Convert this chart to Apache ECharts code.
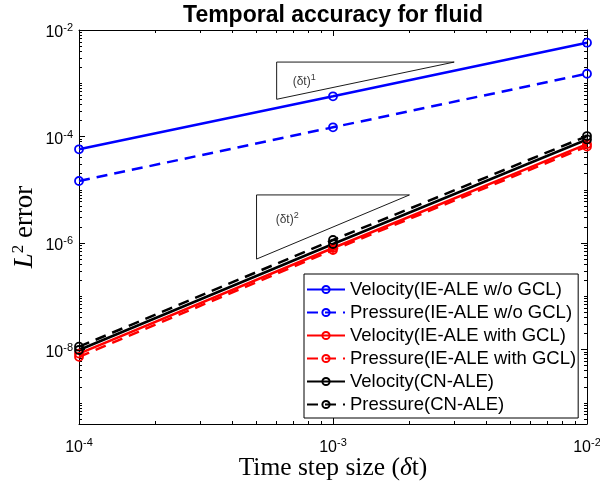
<!DOCTYPE html>
<html><head><meta charset="utf-8">
<script src="https://cdn.jsdelivr.net/npm/echarts@6/dist/echarts.min.js"></script>
<style>html,body{margin:0;padding:0;background:#fff}#c{width:600px;height:486px}</style>
</head><body><div id="c"></div>
<script>
// ---- data ----
const stepSizes = [1e-4, 1e-3, 1e-2];
const velIEnoGCL = [5.75e-5, 5.69e-4, 5.78e-3];
const preIEnoGCL = [1.46e-5, 1.49e-4, 1.51e-3];
const velIEGCL   = [8.4e-9, 8.07e-7, 7.2e-5];
const preIEGCL   = [7.3e-9, 7.4e-7, 6.5e-5];
const velCN      = [9.8e-9, 9.6e-7, 8.8e-5];
const preCN      = [1.13e-8, 1.14e-6, 1.02e-4];
const seriesNames = [
  'Velocity(IE-ALE w/o GCL)', 'Pressure(IE-ALE w/o GCL)',
  'Velocity(IE-ALE with GCL)', 'Pressure(IE-ALE with GCL)',
  'Velocity(CN-ALE)', 'Pressure(CN-ALE)'
];
const titleText = 'Temporal accuracy for fluid';
const xTicks = [1e-4, 1e-3, 1e-2];
const yTicks = [1e-8, 1e-6, 1e-4, 1e-2];
const xRange = [1e-4, 1e-2];
const yRange = [4e-10, 1e-2];
// slope triangles (annotation)
const tri1X = [6e-4, 3e-3, 6e-4, 6e-4];
const tri1Y = [2.5e-3, 2.5e-3, 5e-4, 2.5e-3];
const tri2X = [5e-4, 2e-3, 5e-4, 5e-4];
const tri2Y = [8e-6, 8e-6, 5e-7, 8e-6];
const slopeOrders = ['1', '2'];
const slopeLabelX = [7.7e-4, 6.6e-4];
const slopeLabelY = [1.15e-3, 2.95e-6];

// ---- helpers ----
function minorTicks(lo, hi, majors) {
  const out = [];
  for (let n = -12; n <= 0; n++) for (let k = 1; k <= 9; k++) {
    const v = k * Math.pow(10, n);
    if (v >= lo * 0.9999 && v <= hi * 1.0001 && !majors.some(m => Math.abs(m - v) / m < 1e-6)) out.push(v);
  }
  return out;
}
const SANS = 'Liberation Sans';
const SERIF = 'Liberation Serif';
const supRich = {
  b: { fontFamily: SANS, fontSize: 16, color: '#000', padding: [6, 0, 0, 0] },
  s: { fontFamily: SANS, fontSize: 11, color: '#000', padding: [0, 0, 4, 0] }
};
function powFmt(v) { return '{b|10}{s|' + Math.round(Math.log10(v)) + '}'; }
function axis(kind, pos, range, ticks, len, withLine, withLabel, extra) {
  return Object.assign({
    type: 'log', logBase: 10, min: range[0], max: range[1], position: pos, gridIndex: 0,
    axisLine: { show: withLine, onZero: false, lineStyle: { color: '#000', width: 1 } },
    axisTick: { show: true, inside: true, length: len, customValues: ticks, lineStyle: { color: '#000', width: 1 } },
    axisLabel: withLabel ? { show: true, customValues: ticks, formatter: powFmt, rich: supRich, margin: kind === 'x' ? 10 : 6, color: '#000', hideOverlap: false } : { show: false },
    splitLine: { show: false }, minorTick: { show: false }, minorSplitLine: { show: false }
  }, extra || {});
}
const xMinor = minorTicks(xRange[0], xRange[1], xTicks);
const yMinor = minorTicks(yRange[0], yRange[1], yTicks);

const xAxes = [
  axis('x', 'bottom', xRange, xTicks, 6, true, true, {
    name: '{r|Time step size (}{i|δ}{r|t)}', nameLocation: 'middle', nameGap: 31, nameMoveOverlap: false,
    nameTextStyle: { rich: { r: { fontFamily: SERIF, fontSize: 25.5, color: '#000' }, i: { fontFamily: SERIF, fontSize: 25.5, fontStyle: 'italic', color: '#000' } } }
  }),
  axis('x', 'top', xRange, xTicks, 6, true, false),
  axis('x', 'bottom', xRange, xMinor, 3, false, false),
  axis('x', 'top', xRange, xMinor, 3, false, false)
];
const yAxes = [
  axis('y', 'left', yRange, yTicks, 6, true, true, {
    name: '{i|L}{s|2}{r| error}', nameLocation: 'middle', nameGap: 39, nameRotate: 90, nameMoveOverlap: false,
    nameTextStyle: { rich: {
      r: { fontFamily: SERIF, fontSize: 27, color: '#000' },
      i: { fontFamily: SERIF, fontSize: 27, fontStyle: 'italic', color: '#000' },
      s: { fontFamily: SERIF, fontSize: 17, color: '#000', padding: [0, 0, 13, 0] } } }
  }),
  axis('y', 'right', yRange, yTicks, 6, true, false),
  axis('y', 'left', yRange, yMinor, 3, false, false),
  axis('y', 'right', yRange, yMinor, 3, false, false)
];

function pts(xs, ys) { return xs.map((x, i) => [x, ys[i]]); }
function dataSeries(name, ys, color, dashed) {
  return {
    type: 'line', name: name, xAxisIndex: 0, yAxisIndex: 0,
    data: pts(stepSizes, ys),
    symbol: 'circle', symbolSize: 8, showSymbol: true,
    lineStyle: { color: color, width: 2.5, type: dashed ? [11, 7] : 'solid' },
    itemStyle: { color: 'rgba(255,255,255,0)', borderColor: color, borderWidth: 1.8 },
    emphasis: { disabled: true }, silent: true, z: 3
  };
}
function triSeries(xs, ys) {
  return {
    type: 'line', name: 'tri', xAxisIndex: 0, yAxisIndex: 0, data: pts(xs, ys),
    symbol: 'none', lineStyle: { color: '#000', width: 0.9 }, silent: true, z: 2
  };
}
const series = [
  dataSeries(seriesNames[0], velIEnoGCL, '#0000ff', false),
  dataSeries(seriesNames[1], preIEnoGCL, '#0000ff', true),
  dataSeries(seriesNames[2], velIEGCL, '#ff0000', false),
  dataSeries(seriesNames[3], preIEGCL, '#ff0000', true),
  dataSeries(seriesNames[4], velCN, '#000000', false),
  dataSeries(seriesNames[5], preCN, '#000000', true),
  triSeries(tri1X, tri1Y),
  triSeries(tri2X, tri2Y),
  {
    type: 'scatter', name: 'slopes', xAxisIndex: 0, yAxisIndex: 0, symbolSize: 0, silent: true,
    data: slopeOrders.map((o, i) => [slopeLabelX[i], slopeLabelY[i]]),
    label: {
      show: true, position: 'inside',
      formatter: p => '{a|(δt)}{s|' + slopeOrders[p.dataIndex] + '}',
      rich: {
        a: { fontFamily: SANS, fontSize: 12, color: '#000', padding: [4, 0, 0, 0] },
        s: { fontFamily: SANS, fontSize: 9, color: '#000', padding: [0, 0, 5, 0] }
      }
    }
  }
];

const chart = echarts.init(document.getElementById('c'), null, { renderer: 'canvas' });
chart.setOption({
  animation: false,
  backgroundColor: '#fff',
  graphic: [{
    type: 'text', x: 333, y: 4, silent: true,
    style: { text: titleText, fill: '#000', font: 'bold 23px "Liberation Sans"', textAlign: 'center', textVerticalAlign: 'top' }
  }],
  grid: { left: 79, right: 13, top: 30, bottom: 62, containLabel: false, outerBoundsMode: 'none' },
  xAxis: xAxes,
  yAxis: yAxes,
  legend: {
    data: seriesNames, orient: 'vertical', align: 'left', left: 304, top: 274,
    itemWidth: 38, itemHeight: 9, itemGap: 4, padding: [6, 2, 4, 2],
    borderColor: '#000', borderWidth: 1, backgroundColor: '#fff',
    textStyle: { fontFamily: SANS, fontSize: 18.5, color: '#000' },
    selectedMode: false
  },
  series: series
});
</script></body></html>
